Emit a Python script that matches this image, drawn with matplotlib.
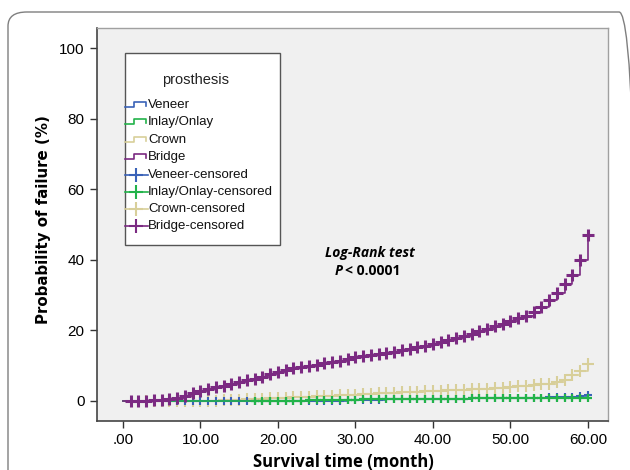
import matplotlib
matplotlib.use("Agg")
import matplotlib.pyplot as plt
from matplotlib.patches import FancyBboxPatch, Rectangle

months = list(range(1, 61))
bridge = [0, 0, 0, 0.2, 0.3, 0.5, 0.8, 1.5, 2.2, 2.8, 3.3, 3.8, 4.3, 4.8, 5.3, 5.8, 6.3, 6.8, 7.5, 8.2,
          8.8, 9.3, 9.6, 9.9, 10.2, 10.6, 11.0, 11.4, 11.9, 12.3, 12.7, 13.1, 13.4, 13.7, 14.0, 14.3, 14.7, 15.2, 15.7, 16.2,
          16.7, 17.3, 17.9, 18.5, 19.1, 19.7, 20.4, 21.1, 21.9, 22.7, 23.5, 24.2, 25.3, 26.5, 28.5, 30.5, 33.0, 35.8, 40.0, 47.0]
crown = [0, 0, 0, 0, 0, 0, 0, 0, 0, 0, 0.1, 0.1, 0.2, 0.3, 0.3, 0.4, 0.5, 0.6, 0.7, 0.8,
         0.9, 1.0, 1.1, 1.2, 1.3, 1.4, 1.5, 1.6, 1.7, 1.8, 1.9, 2.0, 2.1, 2.2, 2.3, 2.4, 2.5, 2.6, 2.7, 2.8,
         2.9, 3.0, 3.1, 3.2, 3.3, 3.4, 3.5, 3.6, 3.7, 3.9, 4.1, 4.3, 4.5, 4.7, 4.9, 5.3, 6.0, 7.3, 8.6, 10.4]
veneer = [0, 0, 0, 0, 0, 0, 0, 0, 0, 0, 0, 0, 0, 0, 0, 0, 0, 0, 0, 0,
          0, 0, 0, 0, 0, 0, 0, 0, 0.2, 0.3, 0.3, 0.3, 0.3, 0.4, 0.4, 0.4, 0.4, 0.5, 0.5, 0.5,
          0.5, 0.6, 0.6, 0.6, 0.7, 0.7, 0.7, 0.7, 0.8, 0.8, 0.8, 0.8, 0.9, 0.9, 1.0, 1.0, 1.0, 1.1, 1.3, 1.6]
inlay = [0, 0, 0, 0, 0, 0, 0, 0, 0, 0, 0, 0, 0, 0, 0, 0, 0, 0, 0, 0,
         0.1, 0.1, 0.1, 0.2, 0.2, 0.2, 0.3, 0.3, 0.3, 0.3, 0.4, 0.4, 0.4, 0.4, 0.5, 0.5, 0.5, 0.5, 0.5, 0.6,
         0.6, 0.6, 0.6, 0.6, 0.7, 0.7, 0.7, 0.7, 0.7, 0.7, 0.8, 0.8, 0.8, 0.8, 0.8, 0.8, 0.9, 0.9, 0.9, 0.9]
veneer_cens_start = 6
inlay_cens_start = 17
crown_cens_start = 3
bridge_cens_start = 1

series = [
    ("Veneer", veneer, "#3a62b8", veneer_cens_start),
    ("Inlay/Onlay", inlay, "#22b34a", inlay_cens_start),
    ("Crown", crown, "#d8cf9a", crown_cens_start),
    ("Bridge", bridge, "#7b2a82", bridge_cens_start),
]
xticks = [0, 10, 20, 30, 40, 50, 60]
xticklabels = [".00", "10.00", "20.00", "30.00", "40.00", "50.00", "60.00"]
yticks = [0, 20, 40, 60, 80, 100]

W, H = 630, 470
fig = plt.figure(figsize=(6.3, 4.7), dpi=100)
fig.patch.set_facecolor("white")
frame = FancyBboxPatch((8 / W, -0.2), 1.0, 1.2 - 12 / H,
                       boxstyle="round,pad=0,rounding_size=0.03",
                       transform=fig.transFigure, facecolor="none",
                       edgecolor="#7f7f7f", linewidth=1.0, zorder=-1)
fig.patches.append(frame)

AX_L, AX_R, AX_T, AX_B = 97, 608, 28, 421
ax = fig.add_axes([AX_L / W, 1 - AX_B / H, (AX_R - AX_L) / W, (AX_B - AX_T) / H])
ax.set_facecolor("#f0f0f0")
ax.set_xlim(-3.35, 62.6)
ax.set_ylim(-5.7, 105.7)


def ax_xy(px, py):
    return (px - AX_L) / (AX_R - AX_L), (AX_B - py) / (AX_B - AX_T)


zorders = {"Veneer": 3, "Inlay/Onlay": 4, "Crown": 2, "Bridge": 5}
msizes = {"Veneer": (6, 1.5), "Inlay/Onlay": (6, 1.6), "Crown": (8, 1.5), "Bridge": (9, 2.2)}
for name, vals, col, cstart in series:
    xs = [0] + months
    ys = [0] + vals
    ax.plot(xs, ys, drawstyle="steps-post", color=col, lw=1.2, zorder=zorders[name])
    cx = [m for m in months if m >= cstart]
    cy = [v for m, v in zip(months, vals) if m >= cstart]
    ms, mew = msizes[name]
    ax.plot(cx, cy, ls="none", marker="+", ms=ms, mew=mew, color=col, zorder=zorders[name])

ax.set_xticks(xticks)
ax.set_xticklabels(xticklabels, fontsize=11, family="Liberation Sans")
ax.set_yticks(yticks)
ax.set_yticklabels([str(v) for v in yticks], fontsize=11, family="Liberation Sans")
ax.tick_params(axis="both", direction="out", length=5, width=1, color="#333333", pad=4)
for s in ["left", "bottom"]:
    ax.spines[s].set_color("#444444")
    ax.spines[s].set_linewidth(1.2)
for s in ["top", "right"]:
    ax.spines[s].set_color("#a0a0a0")
    ax.spines[s].set_linewidth(1.0)

ax.set_xlabel("Survival time (month)", fontsize=12, fontweight="bold", family="Open Sans")
ax.xaxis.set_label_coords(*ax_xy(343, 462))
ax.xaxis.label.set_va("center")
ax.set_ylabel("Probability of failure (%)", fontsize=10.8, fontweight="bold", family="DejaVu Sans")
ax.yaxis.set_label_coords(*ax_xy(44, 220))
ax.yaxis.label.set_va("center")

ax.text(31.9, 41.9, "Log-Rank test", fontsize=10, fontweight="bold", style="italic",
        family="Open Sans", ha="center", va="center")
ax.text(28.3, 36.8, "P", fontsize=10, fontweight="bold", style="italic",
        family="Open Sans", ha="right", va="center")
ax.text(28.6, 36.8, "< 0.0001", fontsize=10, fontweight="bold",
        family="Open Sans", ha="left", va="center")

# manual legend box
x0, y0 = ax_xy(125, 245)
x1, y1 = ax_xy(280, 53)
ax.add_patch(Rectangle((x0, y0), x1 - x0, y1 - y0, transform=ax.transAxes,
                       facecolor="white", edgecolor="#555555", lw=1.0, zorder=10))
tx, ty = ax_xy(196, 80)
ax.text(tx, ty, "prosthesis", transform=ax.transAxes, ha="center", va="center",
        fontsize=10.5, family="Liberation Sans", color="#222222", zorder=11)
row_y = [105, 122, 140, 157, 175, 192, 209, 226]
for i, (name, vals, col, cstart) in enumerate(series):
    py = row_y[i]
    sx = [125, 134, 134, 146, 146]
    sy = [py + 2, py + 2, py - 3, py - 3, py + 1]
    pts = [ax_xy(a, b) for a, b in zip(sx, sy)]
    ax.plot([p[0] for p in pts], [p[1] for p in pts], transform=ax.transAxes,
            color=col, lw=1.2, zorder=11, clip_on=False)
    lx, ly = ax_xy(148, py)
    ax.text(lx, ly, name, transform=ax.transAxes, ha="left", va="center",
            fontsize=9.5, family="Liberation Sans", color="#111111", zorder=11)
for i, (name, vals, col, cstart) in enumerate(series):
    py = row_y[4 + i]
    a0 = ax_xy(125, py)
    a1 = ax_xy(148, py)
    am = ax_xy(136, py)
    ax.plot([a0[0], a1[0]], [a0[1], a1[1]], transform=ax.transAxes, color=col,
            lw=1.2, zorder=11, clip_on=False)
    ax.plot([am[0]], [am[1]], transform=ax.transAxes, color=col, marker="+",
            ms=10, mew=1.5, zorder=11, clip_on=False)
    lx, ly = ax_xy(148, py)
    ax.text(lx, ly, name + "-censored", transform=ax.transAxes, ha="left", va="center",
            fontsize=9.5, family="Liberation Sans", color="#111111", zorder=11)

fig.savefig("out.png", dpi=100)
